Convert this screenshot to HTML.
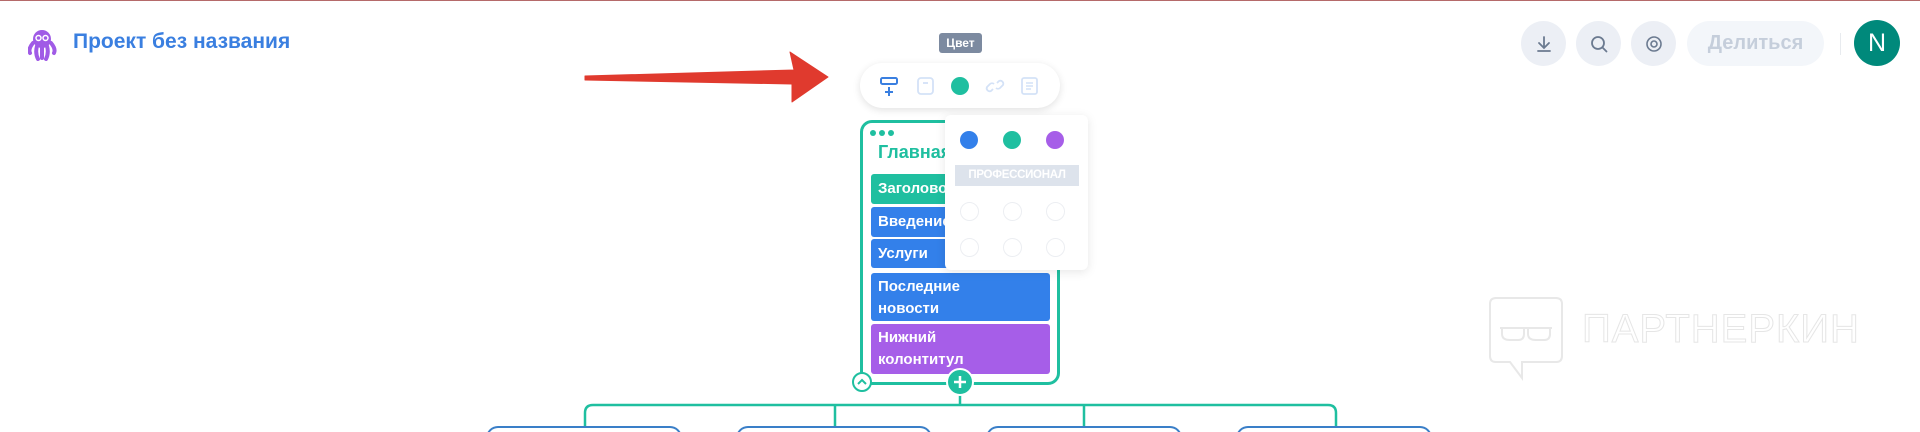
<!DOCTYPE html>
<html><head><meta charset="utf-8"><style>
*{margin:0;padding:0;box-sizing:border-box}
html,body{width:1920px;height:432px;overflow:hidden}
body{background:#fff;position:relative;font-family:"Liberation Sans","DejaVu Sans",sans-serif}
.a{position:absolute}
.row{position:absolute;left:871px;width:179px;border-radius:3px;color:#fff;font-size:15px;font-weight:bold;padding-left:7px;line-height:22px}
.btn{position:absolute;top:21px;width:45px;height:45px;border-radius:50%;background:#eceff5}
.dot{position:absolute;width:18px;height:18px;border-radius:50%}
.ec{position:absolute;width:19px;height:19px;border-radius:50%;border:1px solid #eceef2}
.box{position:absolute;top:426px;height:12px;width:196px;border:2px solid #3a7fc8;border-bottom:none;border-radius:12px 12px 0 0;background:#fff}
</style></head><body>
<div class="a" style="left:0;top:0;width:1920px;height:1px;background:#b56a6a"></div>
<svg class="a" style="left:28px;top:27px" width="30" height="34" viewBox="0 0 30 34">
<circle cx="14" cy="12" r="9" fill="#a05be6"/>
<path d="M5 16 Q0 22 2 26 M9 19 Q7 26 10 32 M14 20 L14 31 M19 19 Q21 26 18 32 M23 16 Q28 22 26 26" stroke="#a05be6" stroke-width="4" fill="none" stroke-linecap="round"/>
<circle cx="10.5" cy="11" r="2.5" fill="none" stroke="#fff" stroke-width="1.5"/><circle cx="17.5" cy="11" r="2.5" fill="none" stroke="#fff" stroke-width="1.5"/>
</svg>
<div class="a" style="left:73px;top:30px;font-size:21px;font-weight:bold;color:#3a7fe0">Проект без названия</div>
<div class="btn" style="left:1521px"></div>
<svg class="a" style="left:1533px;top:33px" width="22" height="22"><path d="M11 4v10M6 10l5 5 5-5M5 18h12" stroke="#6b7a90" stroke-width="1.8" fill="none" stroke-linecap="round"/></svg>
<div class="btn" style="left:1576px"></div>
<svg class="a" style="left:1588px;top:33px" width="22" height="22"><circle cx="10" cy="10" r="6" stroke="#6b7a90" stroke-width="1.8" fill="none"/><path d="M14.5 14.5l4 4" stroke="#6b7a90" stroke-width="1.8" stroke-linecap="round"/></svg>
<div class="btn" style="left:1631px"></div>
<svg class="a" style="left:1643px;top:33px" width="22" height="22"><circle cx="11" cy="11" r="3" stroke="#6b7a90" stroke-width="1.6" fill="none"/><circle cx="11" cy="11" r="7" stroke="#6b7a90" stroke-width="1.6" fill="none"/></svg>
<div class="a" style="left:1687px;top:21px;width:137px;height:45px;border-radius:23px;background:#f3f6fa;color:#c5cedb;font-size:20px;font-weight:bold;text-align:center;line-height:45px">Делиться</div>
<div class="a" style="left:1840px;top:33px;width:1px;height:22px;background:#e8ebef"></div>
<div class="a" style="left:1854px;top:20px;width:46px;height:46px;border-radius:50%;background:#00897b;color:#fff;font-size:25px;text-align:center;line-height:46px">N</div>
<svg class="a" style="left:0;top:0" width="900" height="120"><path d="M585 76 L794 70 L790 52 L828 77 L792 102 L792 84 L585 80 Z" fill="#e03a2e" stroke="#e03a2e" stroke-width="1" stroke-linejoin="round"/></svg>
<div class="a" style="left:939px;top:33px;width:43px;height:20px;border-radius:3px;background:#7c8aa0;color:#fff;font-size:12px;font-weight:bold;text-align:center;line-height:20px">Цвет</div>
<div class="a" style="left:860px;top:63px;width:200px;height:45px;border-radius:23px;background:#fff;box-shadow:0 2px 8px rgba(0,0,0,0.12)"></div>
<svg class="a" style="left:878px;top:75px" width="24" height="24"><rect x="3" y="3" width="16" height="6" rx="1.5" stroke="#3a7fe0" stroke-width="2" fill="none"/><path d="M11 12v9M7 17h8" stroke="#3a7fe0" stroke-width="2"/></svg>
<svg class="a" style="left:916px;top:76px" width="20" height="20"><rect x="2" y="2" width="15" height="16" rx="3" stroke="#d4e2f7" stroke-width="1.8" fill="none"/><path d="M7 7h5" stroke="#d4e2f7" stroke-width="1.8"/></svg>
<div class="dot" style="left:951px;top:77px;background:#1fbfa0"></div>
<svg class="a" style="left:984px;top:76px" width="22" height="20"><path d="M9 13l-2 2a3 3 0 01-4-4l3-3a3 3 0 014 0M13 7l2-2a3 3 0 014 4l-3 3a3 3 0 01-4 0" stroke="#d4e2f7" stroke-width="1.8" fill="none"/></svg>
<svg class="a" style="left:1020px;top:76px" width="20" height="20"><rect x="2" y="2" width="15" height="16" rx="2" stroke="#d4e2f7" stroke-width="1.8" fill="none"/><path d="M6 7h7M6 10h7M6 13h5" stroke="#d4e2f7" stroke-width="1.6"/></svg>
<div class="a" style="left:860px;top:120px;width:200px;height:265px;border:3px solid #1fbfa0;border-radius:12px;background:#fff"></div>
<div class="a" style="left:870px;top:130px;width:6px;height:6px;border-radius:50%;background:#1fbfa0;box-shadow:9px 0 #1fbfa0,18px 0 #1fbfa0"></div>
<div class="a" style="left:878px;top:142px;font-size:18px;font-weight:bold;color:#1fbfa0">Главная</div>
<div class="row" style="top:174px;height:30px;background:#1fbfa0;line-height:30px">Заголовок</div>
<div class="row" style="top:207px;height:30px;background:#3380ea;line-height:30px">Введение</div>
<div class="row" style="top:239px;height:29px;background:#3380ea;line-height:29px">Услуги</div>
<div class="row" style="top:273px;height:48px;background:#3380ea;padding-top:3px">Последние<br>новости</div>
<div class="row" style="top:324px;height:50px;background:#a65ee8;padding-top:3px">Нижний<br>колонтитул</div>
<div class="a" style="left:945px;top:115px;width:143px;height:155px;border-radius:6px;background:#fff;box-shadow:0 2px 10px rgba(0,0,0,0.1)"></div>
<div class="dot" style="left:960px;top:131px;background:#3380ea"></div>
<div class="dot" style="left:1003px;top:131px;background:#1fbfa0"></div>
<div class="dot" style="left:1046px;top:131px;background:#a65ee8"></div>
<div class="a" style="left:955px;top:165px;width:124px;height:21px;background:#dde3ec;color:#fff;font-size:11.5px;font-weight:bold;text-align:center;line-height:21px;letter-spacing:-0.3px">ПРОФЕССИОНАЛ</div>
<div class="ec" style="left:960px;top:202px"></div><div class="ec" style="left:1003px;top:202px"></div><div class="ec" style="left:1046px;top:202px"></div>
<div class="ec" style="left:960px;top:238px"></div><div class="ec" style="left:1003px;top:238px"></div><div class="ec" style="left:1046px;top:238px"></div>
<svg class="a" style="left:0;top:0" width="1920" height="432">
<path d="M960 385V405M585 426V413Q585 405 593 405H1328Q1336 405 1336 413V426M835 405V426M1084 405V426" stroke="#1fbfa0" stroke-width="2.5" fill="none"/>
<circle cx="862" cy="382" r="9" fill="#fff" stroke="#1fbfa0" stroke-width="2"/>
<path d="M858 384l4-4 4 4" stroke="#1fbfa0" stroke-width="2" fill="none"/>
<circle cx="960" cy="382" r="13" fill="#1fbfa0" stroke="#fff" stroke-width="2"/>
<path d="M960 376v12M954 382h12" stroke="#fff" stroke-width="2.5"/>
</svg>
<div class="box" style="left:486px"></div><div class="box" style="left:736px"></div><div class="box" style="left:986px"></div><div class="box" style="left:1236px"></div>
<svg class="a" style="left:1488px;top:296px" width="80" height="86"><path d="M8 2H68Q74 2 74 8V60Q74 66 68 66H34V82L22 66H8Q2 66 2 60V8Q2 2 8 2Z" stroke="#e8e8e8" stroke-width="2" fill="none"/><path d="M12 32H64M14 32V38Q14 44 22 44H30Q36 44 36 38V32M40 32V38Q40 44 48 44H56Q62 44 62 38V32" stroke="#e8e8e8" stroke-width="2" fill="none"/></svg>
<div class="a" style="left:1582px;top:307px;font-size:40px;color:transparent;-webkit-text-stroke:1px #e6e6e6;letter-spacing:1px">ПАРТНЕРКИН</div>
</body></html>
